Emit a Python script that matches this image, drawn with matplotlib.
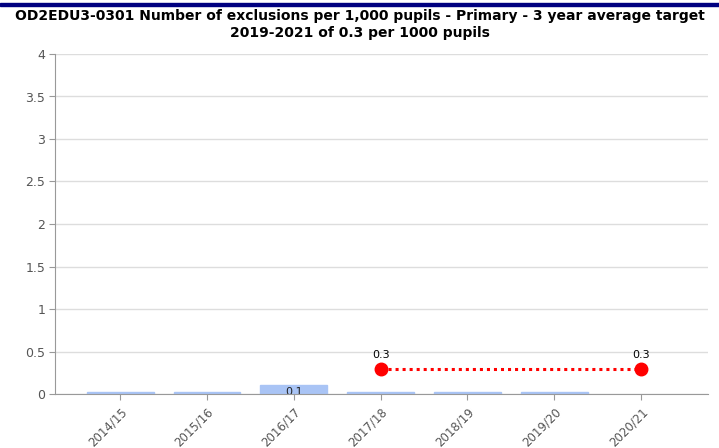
import matplotlib
matplotlib.use("Agg")
import matplotlib.pyplot as plt
import numpy as np

categories = ["2014/15", "2015/16", "2016/17", "2017/18", "2018/19", "2019/20", "2020/21"]
actual = [0.02, 0.02, 0.11, 0.02, 0.02, 0.02, None]
actual_labels = [None, None, "0.1", None, None, None, None]
target = [None, None, None, 0.3, 0.3, 0.3, 0.3]
target_markers = [False, False, False, True, False, False, True]
target_labels = [None, None, None, "0.3", None, None, "0.3"]
yticks = [0, 0.5, 1, 1.5, 2, 2.5, 3, 3.5, 4]
ytick_labels = ["0", "0.5", "1", "1.5", "2", "2.5", "3", "3.5", "4"]
title = "OD2EDU3-0301 Number of exclusions per 1,000 pupils - Primary - 3 year average target\n2019-2021 of 0.3 per 1000 pupils"

fig = plt.figure(figsize=(7.19, 4.48), dpi=100)
fig.patches.append(plt.Rectangle((0, 1 - 6/448), 1, 3/448, transform=fig.transFigure,
                                 color="#000080", zorder=10))
ax = fig.add_axes([55/719, 54/448, (708-55)/719, (394-54)/448])

x = np.arange(len(categories))
bx = [i for i, v in enumerate(actual) if v is not None]
bv = [v for v in actual if v is not None]
ax.bar(bx, bv, width=0.77, color="#a9c4f5", edgecolor="#a9c4f5", zorder=2)
for i, lab in enumerate(actual_labels):
    if lab:
        ax.text(i, -0.035, lab, ha="center", va="bottom", fontsize=8, color="#222222",
                zorder=3, clip_on=True)

tx = [i for i, v in enumerate(target) if v is not None]
tv = [v for v in target if v is not None]
ax.plot(tx, tv, color="#ff0000", linestyle=(0, (1, 1.3)), linewidth=2.2, zorder=4)
mx = [i for i, m in enumerate(target_markers) if m]
mv = [target[i] for i in mx]
ax.plot(mx, mv, linestyle="none", marker="o", markersize=9, color="#ff0000", zorder=5)
for i, lab in enumerate(target_labels):
    if lab:
        ax.annotate(lab, (i, target[i]), xytext=(0, 6), textcoords="offset points",
                    ha="center", va="bottom", fontsize=8, color="#000000", zorder=6)

ax.set_xlim(-0.75, 6.77)
ax.set_ylim(0, 4)
ax.set_yticks(yticks)
ax.set_yticklabels(ytick_labels)
ax.set_xticks(x)
ax.set_xticklabels(categories, rotation=45, ha="right", rotation_mode="anchor")
ax.grid(axis="y", color="#dddddd", linewidth=1, zorder=0)
ax.set_axisbelow(True)
for s in ["top", "right"]:
    ax.spines[s].set_visible(False)
ax.spines["left"].set_color("#999999")
ax.spines["bottom"].set_color("#999999")
ax.tick_params(axis="y", colors="#999999", labelcolor="#555555", labelsize=9, length=4, pad=3)
ax.tick_params(axis="x", colors="#999999", labelcolor="#555555", labelsize=8.5, length=4, pad=4)

fig.text(0.5, 1 - 9/448, title, ha="center", va="top", fontsize=10, fontweight="bold",
         color="#000000", linespacing=1.25)

fig.savefig("out.png", dpi=100)
